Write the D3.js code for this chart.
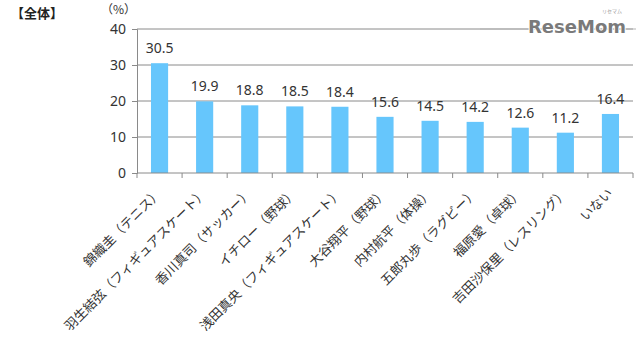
<!DOCTYPE html>
<html>
<head>
<meta charset="utf-8">
<script src="https://cdn.jsdelivr.net/npm/d3@7"></script>
<style>
  html, body { margin: 0; padding: 0; background: #fff; }
  svg { display: block; font-family: "Noto Sans CJK JP", "Noto Sans", sans-serif; }
</style>
</head>
<body>
<svg id="chart" width="640" height="340"></svg>
<script>
// Favourite athletes, share of all respondents (%)
const categories = [
  "錦織圭（テニス）",
  "羽生結弦（フィギュアスケート）",
  "香川真司（サッカー）",
  "イチロー（野球）",
  "浅田真央（フィギュアスケート）",
  "大谷翔平（野球）",
  "内村航平（体操）",
  "五郎丸歩（ラグビー）",
  "福原愛（卓球）",
  "吉田沙保里（レスリング）",
  "いない"
];
const values = [30.5, 19.9, 18.8, 18.5, 18.4, 15.6, 14.5, 14.2, 12.6, 11.2, 16.4];
const yTicks = [0, 10, 20, 30, 40];

const svg = d3.select("#chart");
const plotLeft = 137, plotRight = 633, plotTop = 29, plotBottom = 173;

const x = d3.scaleBand().domain(categories).range([plotLeft, plotRight]).paddingInner(0.62).paddingOuter(0.31);
const y = d3.scaleLinear().domain([0, 40]).range([plotBottom, plotTop]);

// horizontal gridlines
svg.append("g").selectAll("line")
  .data(yTicks.filter(d => d > 0))
  .join("line")
  .attr("x1", plotLeft).attr("x2", plotRight)
  .attr("y1", d => y(d)).attr("y2", d => y(d))
  .attr("stroke", "#8a8a8a").attr("stroke-width", 1);

// bars
svg.append("g").selectAll("rect")
  .data(values)
  .join("rect")
  .attr("x", (d, i) => x(categories[i]))
  .attr("y", d => y(d))
  .attr("width", x.bandwidth())
  .attr("height", d => y(0) - y(d))
  .attr("fill", "#66c6fc");

// value labels
svg.append("g").selectAll("text")
  .data(values)
  .join("text")
  .attr("x", (d, i) => x(categories[i]) + x.bandwidth() / 2)
  .attr("y", d => y(d) - 10)
  .attr("text-anchor", "middle")
  .attr("font-size", 14)
  .attr("fill", "#333")
  .attr("font-family", "'Noto Sans', sans-serif")
  .text(d => d.toFixed(1));

// y axis
const yAxis = svg.append("g")
  .attr("transform", `translate(${plotLeft},0)`)
  .call(d3.axisLeft(y).tickValues(yTicks).tickSize(5).tickPadding(6).tickFormat(d3.format("d")));
yAxis.select(".domain").attr("stroke", "#8a8a8a");
yAxis.selectAll(".tick line").attr("stroke", "#8a8a8a");
yAxis.selectAll(".tick text").attr("font-size", 14).attr("fill", "#333")
  .attr("font-family", "'Noto Sans', sans-serif");

// x axis: ticks at category boundaries
const xAxisG = svg.append("g");
xAxisG.append("line")
  .attr("x1", plotLeft).attr("x2", plotRight)
  .attr("y1", plotBottom).attr("y2", plotBottom)
  .attr("stroke", "#8a8a8a");
const step = x.step();
const bounds = d3.range(categories.length + 1).map(i => plotLeft + i * step);
xAxisG.selectAll("line.tk")
  .data(bounds)
  .join("line")
  .attr("class", "tk")
  .attr("x1", d => d).attr("x2", d => d)
  .attr("y1", plotBottom).attr("y2", plotBottom + 5)
  .attr("stroke", "#8a8a8a");

// rotated category labels
xAxisG.selectAll("text")
  .data(categories)
  .join("text")
  .attr("transform", d => `translate(${x(d) + x.bandwidth() / 2 + 3},${plotBottom + 21}) rotate(-45)`)
  .attr("text-anchor", "end")
  .attr("font-size", 13)
  .attr("fill", "#333")
  .text(d => d);

// unit and heading
svg.append("text").attr("x", 101).attr("y", 14)
  .attr("font-size", 12).attr("fill", "#333").text("（%）");
svg.append("text").attr("x", 11).attr("y", 18)
  .attr("font-size", 13).attr("font-weight", "bold").attr("fill", "#222").text("【全体】");

// brand mark
svg.append("line").attr("x1", 480).attr("x2", 636).attr("y1", 29).attr("y2", 29)
  .attr("stroke", "#b5b5b5").attr("stroke-width", 1);
svg.append("text").attr("x", 577).attr("y", 33).attr("text-anchor", "middle")
  .attr("font-family", "'DejaVu Sans', sans-serif")
  .attr("font-size", 18).attr("font-weight", "bold").attr("fill", "#7a7a7a")
  .attr("stroke", "#fff").attr("stroke-width", 2).attr("paint-order", "stroke")
  .text("ReseMom");
svg.append("text").attr("x", 612).attr("y", 13).attr("text-anchor", "middle")
  .attr("font-size", 5).attr("fill", "#999").text("リセマム");
</script>
</body>
</html>
